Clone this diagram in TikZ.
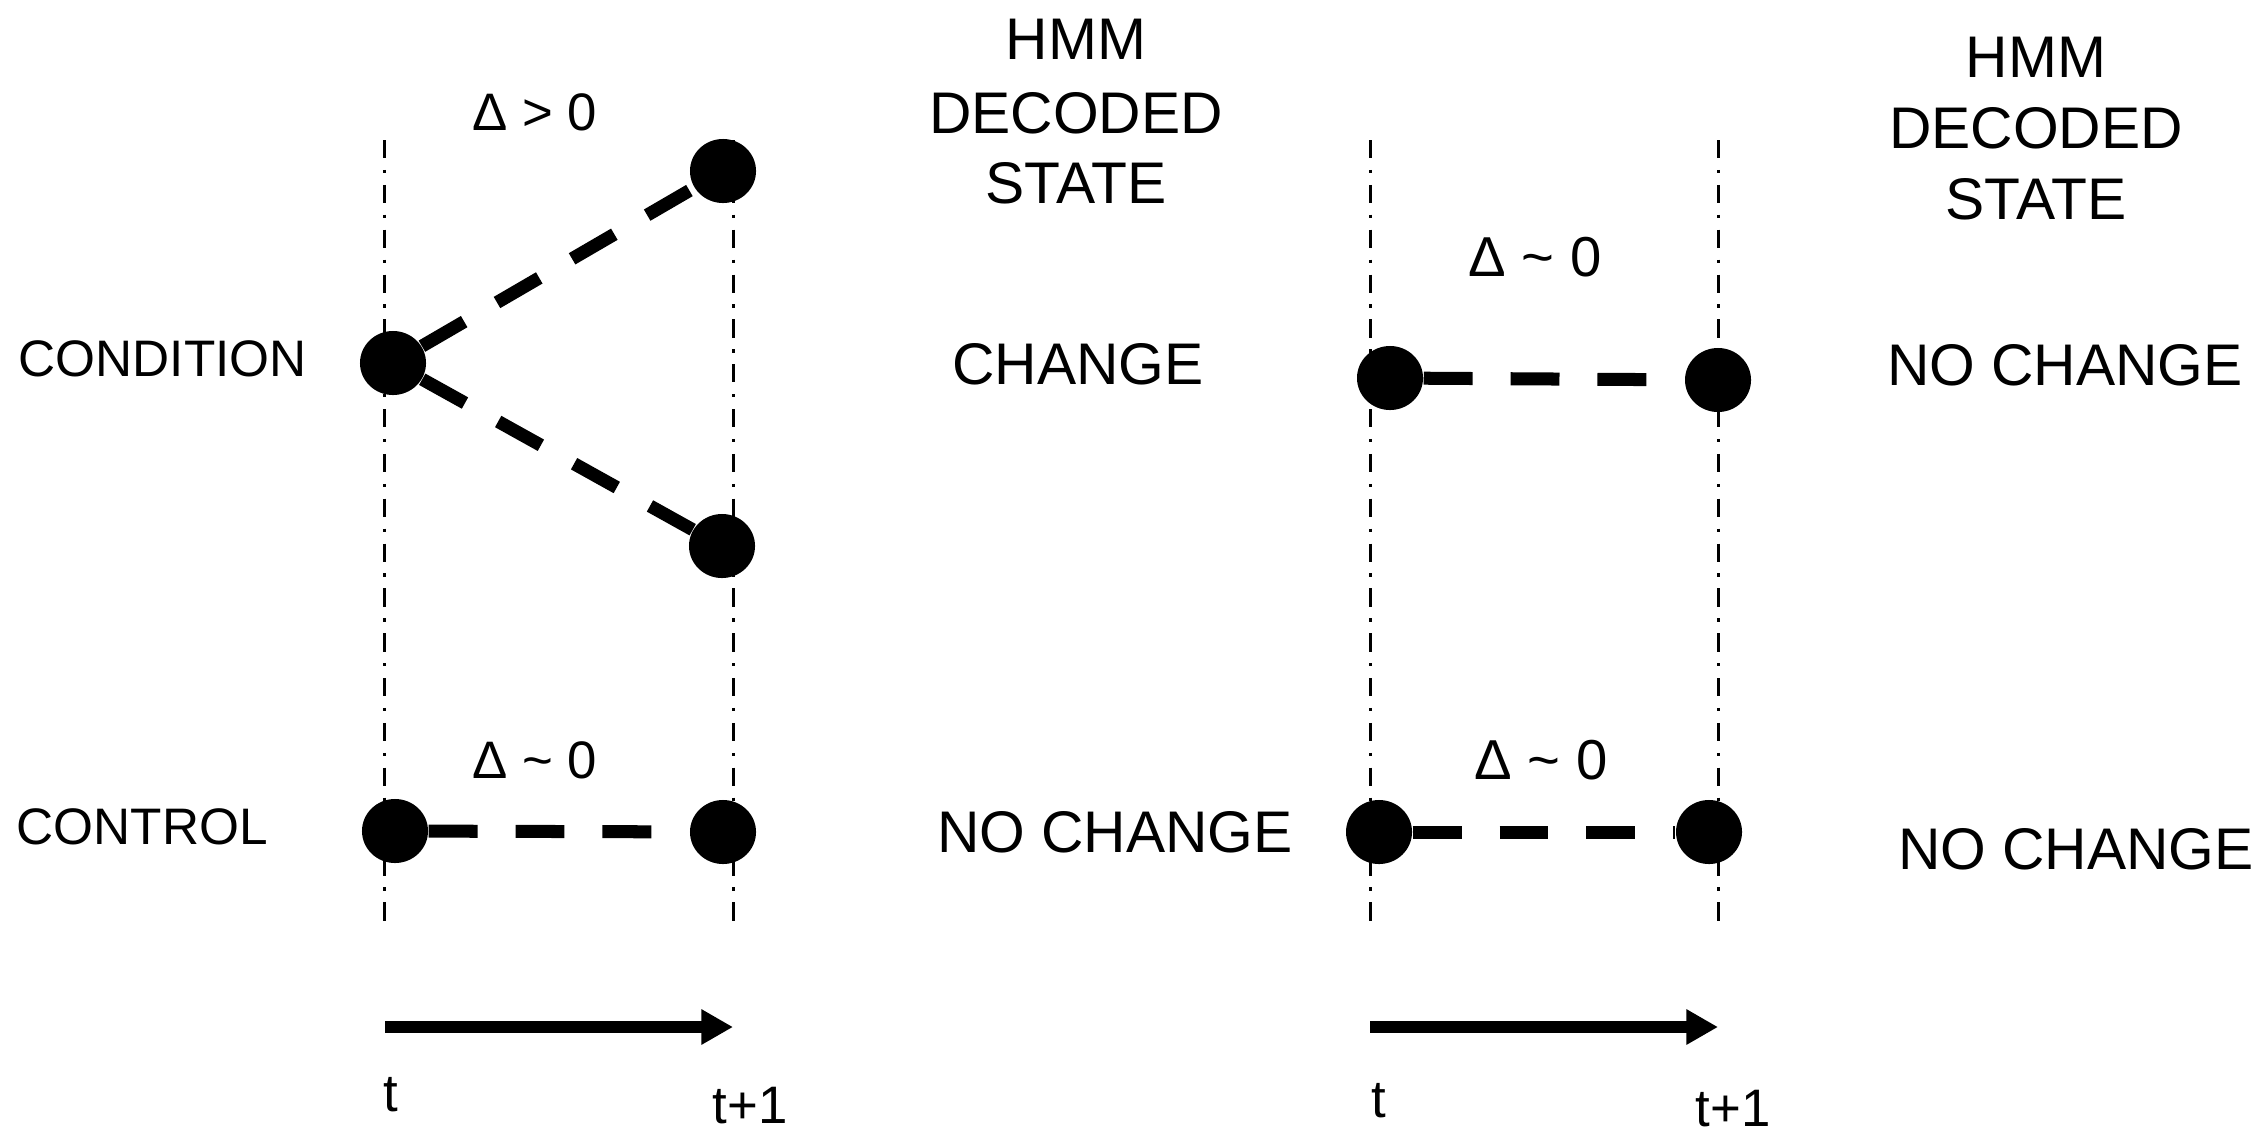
\documentclass[tikz,border=0pt]{standalone}
\usepackage{fontspec}
\setmainfont{Liberation Sans}
\usetikzlibrary{arrows.meta,shapes.geometric}
\begin{document}
\begin{tikzpicture}[x=0.01cm,y=-0.01cm,
  dot/.style={ellipse,fill=black,inner sep=0pt,minimum width=0.66cm,minimum height=0.64cm},
  guide/.style={line width=0.85pt,dash pattern=on 5.2pt off 3.3pt on 0.95pt off 3.3pt},
  link/.style={line width=3.7pt,dash pattern=on 13.9pt off 10.8pt},
  timearrow/.style={line width=3.4pt,-{Triangle[length=9pt,width=9.5pt]}},
  big/.style={inner sep=0pt,font=\fontsize{16.7pt}{20pt}\selectfont},
  side/.style={inner sep=0pt,font=\fontsize{14.6pt}{17pt}\selectfont},
  deltaL/.style={inner sep=0pt,font=\fontsize{15pt}{18pt}\selectfont},
  deltaR/.style={inner sep=0pt,font=\fontsize{16pt}{19pt}\selectfont},
  ticklab/.style={inner sep=0pt,font=\fontsize{15pt}{18pt}\selectfont}]
\useasboundingbox (0,0) rectangle (2264,1133);
% guide lines
\coordinate (g1t) at (384,140);  \coordinate (g1b) at (384,931);
\coordinate (g2t) at (733,140);  \coordinate (g2b) at (733,931);
\coordinate (g3t) at (1370,140); \coordinate (g3b) at (1370,931);
\coordinate (g4t) at (1718,140); \coordinate (g4b) at (1718,931);
\draw[guide] (g1t) -- (g1b);
\draw[guide] (g2t) -- (g2b);
\draw[guide] (g3t) -- (g3b);
\draw[guide] (g4t) -- (g4b);
% dots left
\node[dot] (c0) at (393,363) {};
\node[dot] (c1) at (723,171) {};
\node[dot] (c2) at (722,546) {};
\node[dot] (k0) at (395,831) {};
\node[dot] (k1) at (723,832) {};
% dots right
\node[dot] (r0) at (1390,378) {};
\node[dot] (r1) at (1718,380) {};
\node[dot] (s0) at (1379,832) {};
\node[dot] (s1) at (1709,832) {};
% links
\draw[link] (c0) -- (c1);
\draw[link] (c0) -- (c2);
\draw[link] (k0) -- (k1);
\draw[link] (r0) -- (r1);
\draw[link] (s0) -- (s1);
% labels left
\node[side,anchor=west] (cond) at (18,359) {CONDITION};
\node[side,anchor=west] (ctrl) at (16,827) {CONTROL};
\node[deltaL] (d1) at (535,112) {Δ > 0};
\node[deltaL] (d2) at (535,760) {Δ \textasciitilde{} 0};
\node[big] (h1) at (1076,39) {HMM};
\node[big] (h2) at (1076,113) {DECODED};
\node[big] (h3) at (1076,183) {STATE};
\node[big] (ch) at (1078,364) {CHANGE};
\node[big] (nc1) at (1115,832) {NO CHANGE};
% labels right
\node[big] (h4) at (2036,57) {HMM};
\node[big] (h5) at (2036,128) {DECODED};
\node[big] (h6) at (2036,199) {STATE};
\node[deltaR] (d3) at (1535,257) {Δ \textasciitilde{} 0};
\node[deltaR] (d4) at (1541,760) {Δ \textasciitilde{} 0};
\node[big] (nc2) at (2065,365) {NO CHANGE};
\node[big] (nc3) at (2076,849) {NO CHANGE};
% time arrows
\coordinate (a0) at (385,1027); \coordinate (a1) at (733,1027);
\coordinate (b0) at (1370,1027); \coordinate (b1) at (1718,1027);
\draw[timearrow] (a0) -- (a1);
\draw[timearrow] (b0) -- (b1);
\node[ticklab] (t1) at (391,1095) {t};
\node[ticklab] (t2) at (750,1106) {t+1};
\node[ticklab] (t3) at (1379,1101) {t};
\node[ticklab] (t4) at (1733,1109) {t+1};
\end{tikzpicture}
\end{document}
